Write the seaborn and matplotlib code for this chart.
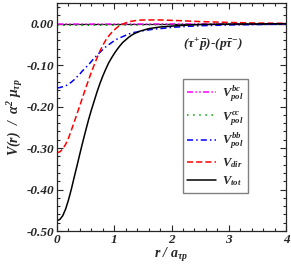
import numpy as np
import pandas as pd
import matplotlib
matplotlib.use("Agg")
import matplotlib.pyplot as plt
from matplotlib.ticker import MultipleLocator, FormatStrFormatter
import seaborn as sns

# values
r = [0.0, 0.05, 0.1, 0.15, 0.2, 0.25, 0.3, 0.35, 0.4, 0.45, 0.5, 0.55, 0.6,
     0.65, 0.7, 0.75, 0.8, 0.85, 0.9, 0.95, 1.0, 1.05, 1.1, 1.15, 1.2, 1.25,
     1.3, 1.35, 1.4, 1.45, 1.5, 1.6, 1.7, 1.8, 2.0, 2.2, 2.5, 3.0, 3.5, 4.0]

v_tot = [-0.475, -0.472, -0.463, -0.447, -0.425, -0.399, -0.370, -0.342,
         -0.313, -0.285, -0.258, -0.232, -0.208, -0.186, -0.164, -0.144,
         -0.126, -0.110, -0.095, -0.083, -0.072, -0.062, -0.053, -0.045,
         -0.039, -0.033, -0.028, -0.024, -0.021, -0.018, -0.016, -0.012,
         -0.010, -0.008, -0.006, -0.004, -0.002, -0.001, -0.0005, 0.0]
v_dir = [-0.311, -0.309, -0.302, -0.291, -0.276, -0.257, -0.237, -0.217,
         -0.197, -0.176, -0.156, -0.136, -0.117, -0.099, -0.082, -0.066,
         -0.052, -0.040, -0.030, -0.022, -0.015, -0.009, -0.004, -0.001,
         0.002, 0.004, 0.006, 0.007, 0.008, 0.0085, 0.009, 0.009, 0.009,
         0.009, 0.008, 0.007, 0.005, 0.003, 0.0015, 0.0008]
v_bb = [-0.155, -0.154, -0.152, -0.150, -0.146, -0.141, -0.135, -0.128,
        -0.121, -0.113, -0.106, -0.099, -0.091, -0.083, -0.076, -0.069,
        -0.062, -0.056, -0.051, -0.046, -0.041, -0.037, -0.034, -0.031,
        -0.028, -0.025, -0.023, -0.021, -0.020, -0.018, -0.017, -0.015,
        -0.013, -0.012, -0.009, -0.007, -0.005, -0.003, -0.002, -0.001]

r_small = [0.0, 1.0, 2.0, 3.0, 4.0]
v_cc = [-0.004, -0.0035, -0.002, -0.0012, -0.001]
v_bc = [-0.001, -0.001, -0.0006, -0.0003, -0.0001]

labels = [r"$V_{pol}^{bc}$", r"$V_{pol}^{cc}$", r"$V_{pol}^{bb}$",
          r"$V_{dir}$", r"$V_{tot}$"]

sns.set_style("ticks")
plt.rcParams["font.family"] = ["Liberation Serif", "DejaVu Serif"]
plt.rcParams["mathtext.fontset"] = "custom"
plt.rcParams["mathtext.it"] = "Liberation Serif:italic:bold"
plt.rcParams["mathtext.rm"] = "Liberation Serif:italic:bold"
plt.rcParams["mathtext.bf"] = "Liberation Serif:italic:bold"
plt.rcParams["axes.unicode_minus"] = False

fig = plt.figure(figsize=(2.91, 2.68), dpi=100)
ax = fig.add_axes([0.196, 0.138, 0.787, 0.851])

ax.axhline(0, color="black", lw=0.9, zorder=1)

series = [(r_small, v_bc), (r_small, v_cc), (r, v_bb), (r, v_dir), (r, v_tot)]
colors = ["magenta", "#00a000", "blue", "red", "black"]
styles = [(0, (4, 1.5, 1, 1.5, 1, 1.5)), (0, (1, 3)), (0, (4, 2, 1, 2)),
          (0, (4, 2)), "-"]
for (xs, vals), c, ls, lab in zip(series, colors, styles, labels):
    sns.lineplot(x=xs, y=vals, ax=ax, color=c, linestyle=ls, lw=1.1, label=lab)

ax.set_xlim(0, 4)
ax.set_ylim(-0.5, 0.05)
ax.xaxis.set_major_locator(MultipleLocator(1))
ax.xaxis.set_minor_locator(MultipleLocator(0.2))
ax.yaxis.set_major_locator(MultipleLocator(0.1))
ax.yaxis.set_minor_locator(MultipleLocator(0.02))
ax.yaxis.set_major_formatter(FormatStrFormatter("%.2f"))
ax.tick_params(which="both", direction="in", top=True, right=True, width=0.8)
ax.tick_params(which="major", length=4.5, labelsize=9.5, pad=2)
ax.tick_params(which="minor", length=2.5)
for t in ax.get_xticklabels() + ax.get_yticklabels():
    t.set_fontweight("bold")
    t.set_fontstyle("italic")
for s in ax.spines.values():
    s.set_linewidth(0.9)

ax.set_xlabel(r"$r\ /\ a_{\tau p}$", fontsize=10, labelpad=0)
ax.set_ylabel(r"$V(r)\ \ /\ \ \alpha^{2}\ \mu_{\tau p}$", fontsize=10, labelpad=1)

ax.text(0.68, 0.815, r"$(\tau^{+}\bar{p})$-$(p\bar{\tau}^{-})$", transform=ax.transAxes,
        ha="center", va="center", fontsize=9.5)

leg = ax.legend(loc="upper left", bbox_to_anchor=(0.55, 0.665), fontsize=9,
                handlelength=2.3, labelspacing=0.38, borderpad=0.35,
                handletextpad=0.5, borderaxespad=0, fancybox=False, framealpha=1)
leg.get_frame().set_edgecolor("gray")
leg.get_frame().set_linewidth(1.0)

fig.savefig("out.png", dpi=100)
